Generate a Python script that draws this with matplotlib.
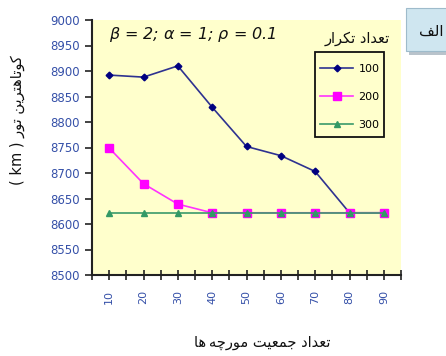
import matplotlib
matplotlib.use("Agg")
import matplotlib.pyplot as plt
from matplotlib.patches import Rectangle

# ---- data -------------------------------------------------------------
ants = [10, 20, 30, 40, 50, 60, 70, 80, 90]
series_labels = ["100", "200", "300"]
iter_100 = [8892, 8888, 8910, 8829, 8752, 8734, 8703, 8622, 8622]
iter_200 = [8749, 8679, 8639, 8622, 8622, 8622, 8622, 8622, 8622]
iter_300 = [8622, 8622, 8622, 8622, 8622, 8622, 8622, 8622, 8622]
y_ticks = [8500, 8550, 8600, 8650, 8700, 8750, 8800, 8850, 8900, 8950, 9000]

title_txt = r"$\beta$ = 2; $\alpha$ = 1; $\rho$ = 0.1"
legend_title = "تعداد تکرار"
x_title = "تعداد جمعیت مورچه\u200cها"
y_title = "کوتاهترین تور"
y_unit = "( km ) "
panel_tag = "الف"

# ---- minimal Arabic/Persian shaping (presentation forms, visual order) --
FORMS = {  # isolated, final, initial, medial
    "ا": ("\uFE8D", "\uFE8E", None, None),
    "د": ("\uFEA9", "\uFEAA", None, None),
    "ر": ("\uFEAD", "\uFEAE", None, None),
    "و": ("\uFEED", "\uFEEE", None, None),
    "ت": ("\uFE95", "\uFE96", "\uFE97", "\uFE98"),
    "ع": ("\uFEC9", "\uFECA", "\uFECB", "\uFECC"),
    "ج": ("\uFE9D", "\uFE9E", "\uFE9F", "\uFEA0"),
    "م": ("\uFEE1", "\uFEE2", "\uFEE3", "\uFEE4"),
    "ه": ("\uFEE9", "\uFEEA", "\uFEEB", "\uFEEC"),
    "ن": ("\uFEE5", "\uFEE6", "\uFEE7", "\uFEE8"),
    "ل": ("\uFEDD", "\uFEDE", "\uFEDF", "\uFEE0"),
    "ف": ("\uFED1", "\uFED2", "\uFED3", "\uFED4"),
    "ک": ("\uFB8E", "\uFB8F", "\uFB90", "\uFB91"),
    "ی": ("\uFBFC", "\uFBFD", "\uFBFE", "\uFBFF"),
    "چ": ("\uFB7A", "\uFB7B", "\uFB7C", "\uFB7D"),
}


def shape(text):
    chars = list(text)
    out = []
    for i, c in enumerate(chars):
        if c == "\u200c":
            out.append("\u2009")
            continue
        if c not in FORMS:
            out.append(c)
            continue
        prev = chars[i - 1] if i > 0 else None
        nxt = chars[i + 1] if i + 1 < len(chars) else None
        join_prev = prev in FORMS and FORMS[prev][2] is not None
        join_next = nxt in FORMS and FORMS[c][2] is not None
        iso, fin, ini, med = FORMS[c]
        if join_prev and join_next:
            g = med
        elif join_prev:
            g = fin
        elif join_next:
            g = ini
        else:
            g = iso
        out.append(g)
    return "".join(reversed(out))


# ---- figure -------------------------------------------------------------
W, H = 446, 356
fig = plt.figure(figsize=(W / 100, H / 100), dpi=100)
fig.patch.set_facecolor("white")
ax = fig.add_axes([92 / W, 1 - 275 / H, (401 - 92) / W, (275 - 20) / H])
ax.set_facecolor("#FFFFCC")

tick_color = "#3550A8"
ar_font = "DejaVu Sans"

ax.plot(ants, iter_100, color="#2E3290", lw=1.2, marker="D", ms=3.4,
        mfc="#000080", mec="#000080", label=series_labels[0], zorder=3)
ax.plot(ants, iter_200, color="#FF33FF", lw=1.2, marker="s", ms=5.5,
        mfc="#FF00FF", mec="#FF00FF", label=series_labels[1], zorder=4)
ax.plot(ants, iter_300, color="#3A9A6A", lw=1.2, marker="^", ms=5,
        mfc="#339966", mec="#339966", label=series_labels[2], zorder=5)

ax.set_xlim(5, 95)
ax.set_ylim(8500, 9000)
ax.set_xticks(ants)
ax.set_xticks([5 + 10 * i for i in range(10)], minor=True)
ax.set_yticks(y_ticks)
ax.set_xticklabels([str(a) for a in ants], rotation=90, fontsize=8,
                   color=tick_color)
ax.set_yticklabels([str(v) for v in y_ticks], fontsize=8.5, color=tick_color)

for s in ("top", "right"):
    ax.spines[s].set_visible(False)
for s in ("left", "bottom"):
    ax.spines[s].set_linewidth(1.5)
    ax.spines[s].set_color("#222222")

ax.tick_params(axis="x", which="both", direction="inout", length=7,
               width=1.2, color="#222222", pad=7)
ax.tick_params(axis="y", which="major", direction="out", length=5,
               width=1.2, color="#222222", pad=4)

# parameter annotation
fig.text(193 / W, 1 - 34 / H, title_txt, ha="center", va="center",
         fontsize=11.5, style="italic", color="#111111")

# legend: frame drawn separately, entries placed inside it
frame = Rectangle((315 / W, 1 - 137 / H), 69 / W, 85 / H,
                  transform=fig.transFigure, facecolor="#FFFFCC",
                  edgecolor="#111111", lw=1.3, zorder=6, clip_on=False)
ax.add_patch(frame)
leg = ax.legend(loc="upper left", bbox_to_anchor=(320 / W, 1 - 64 / H),
                bbox_transform=fig.transFigure, fontsize=8, frameon=False,
                handlelength=3.0, handletextpad=0.45, labelspacing=1.62,
                borderpad=0, borderaxespad=0)
leg.set_zorder(7)
fig.text(357 / W, 1 - 39 / H, shape(legend_title), ha="center",
         va="center", fontsize=10.5, family=ar_font, color="#111111")

# axis titles
fig.text(262 / W, 1 - 343 / H, shape(x_title), ha="center", va="center",
         fontsize=10.5, family=ar_font, color="#111111")
fig.text(17 / W, 1 - 120 / H, y_unit + shape(y_title), ha="center",
         va="center", rotation=90, fontsize=10.5, family=ar_font,
         color="#111111")

# panel tag box
shadow = Rectangle((409 / W, 1 - 55 / H), 40 / W, 43 / H,
                   transform=fig.transFigure, facecolor="#B9C3CB",
                   edgecolor="none", zorder=5)
fig.patches.append(shadow)
box = Rectangle((406 / W, 1 - 51 / H), 44 / W, 43 / H,
                transform=fig.transFigure, facecolor="#CFE6F0",
                edgecolor="#9EBBCB", lw=0.8, zorder=6)
fig.patches.append(box)
fig.text(431 / W, 1 - 31 / H, shape(panel_tag), ha="center", va="center",
         fontsize=11, family=ar_font, color="#111111", zorder=7)

fig.savefig("out.png", dpi=100, facecolor="white")
